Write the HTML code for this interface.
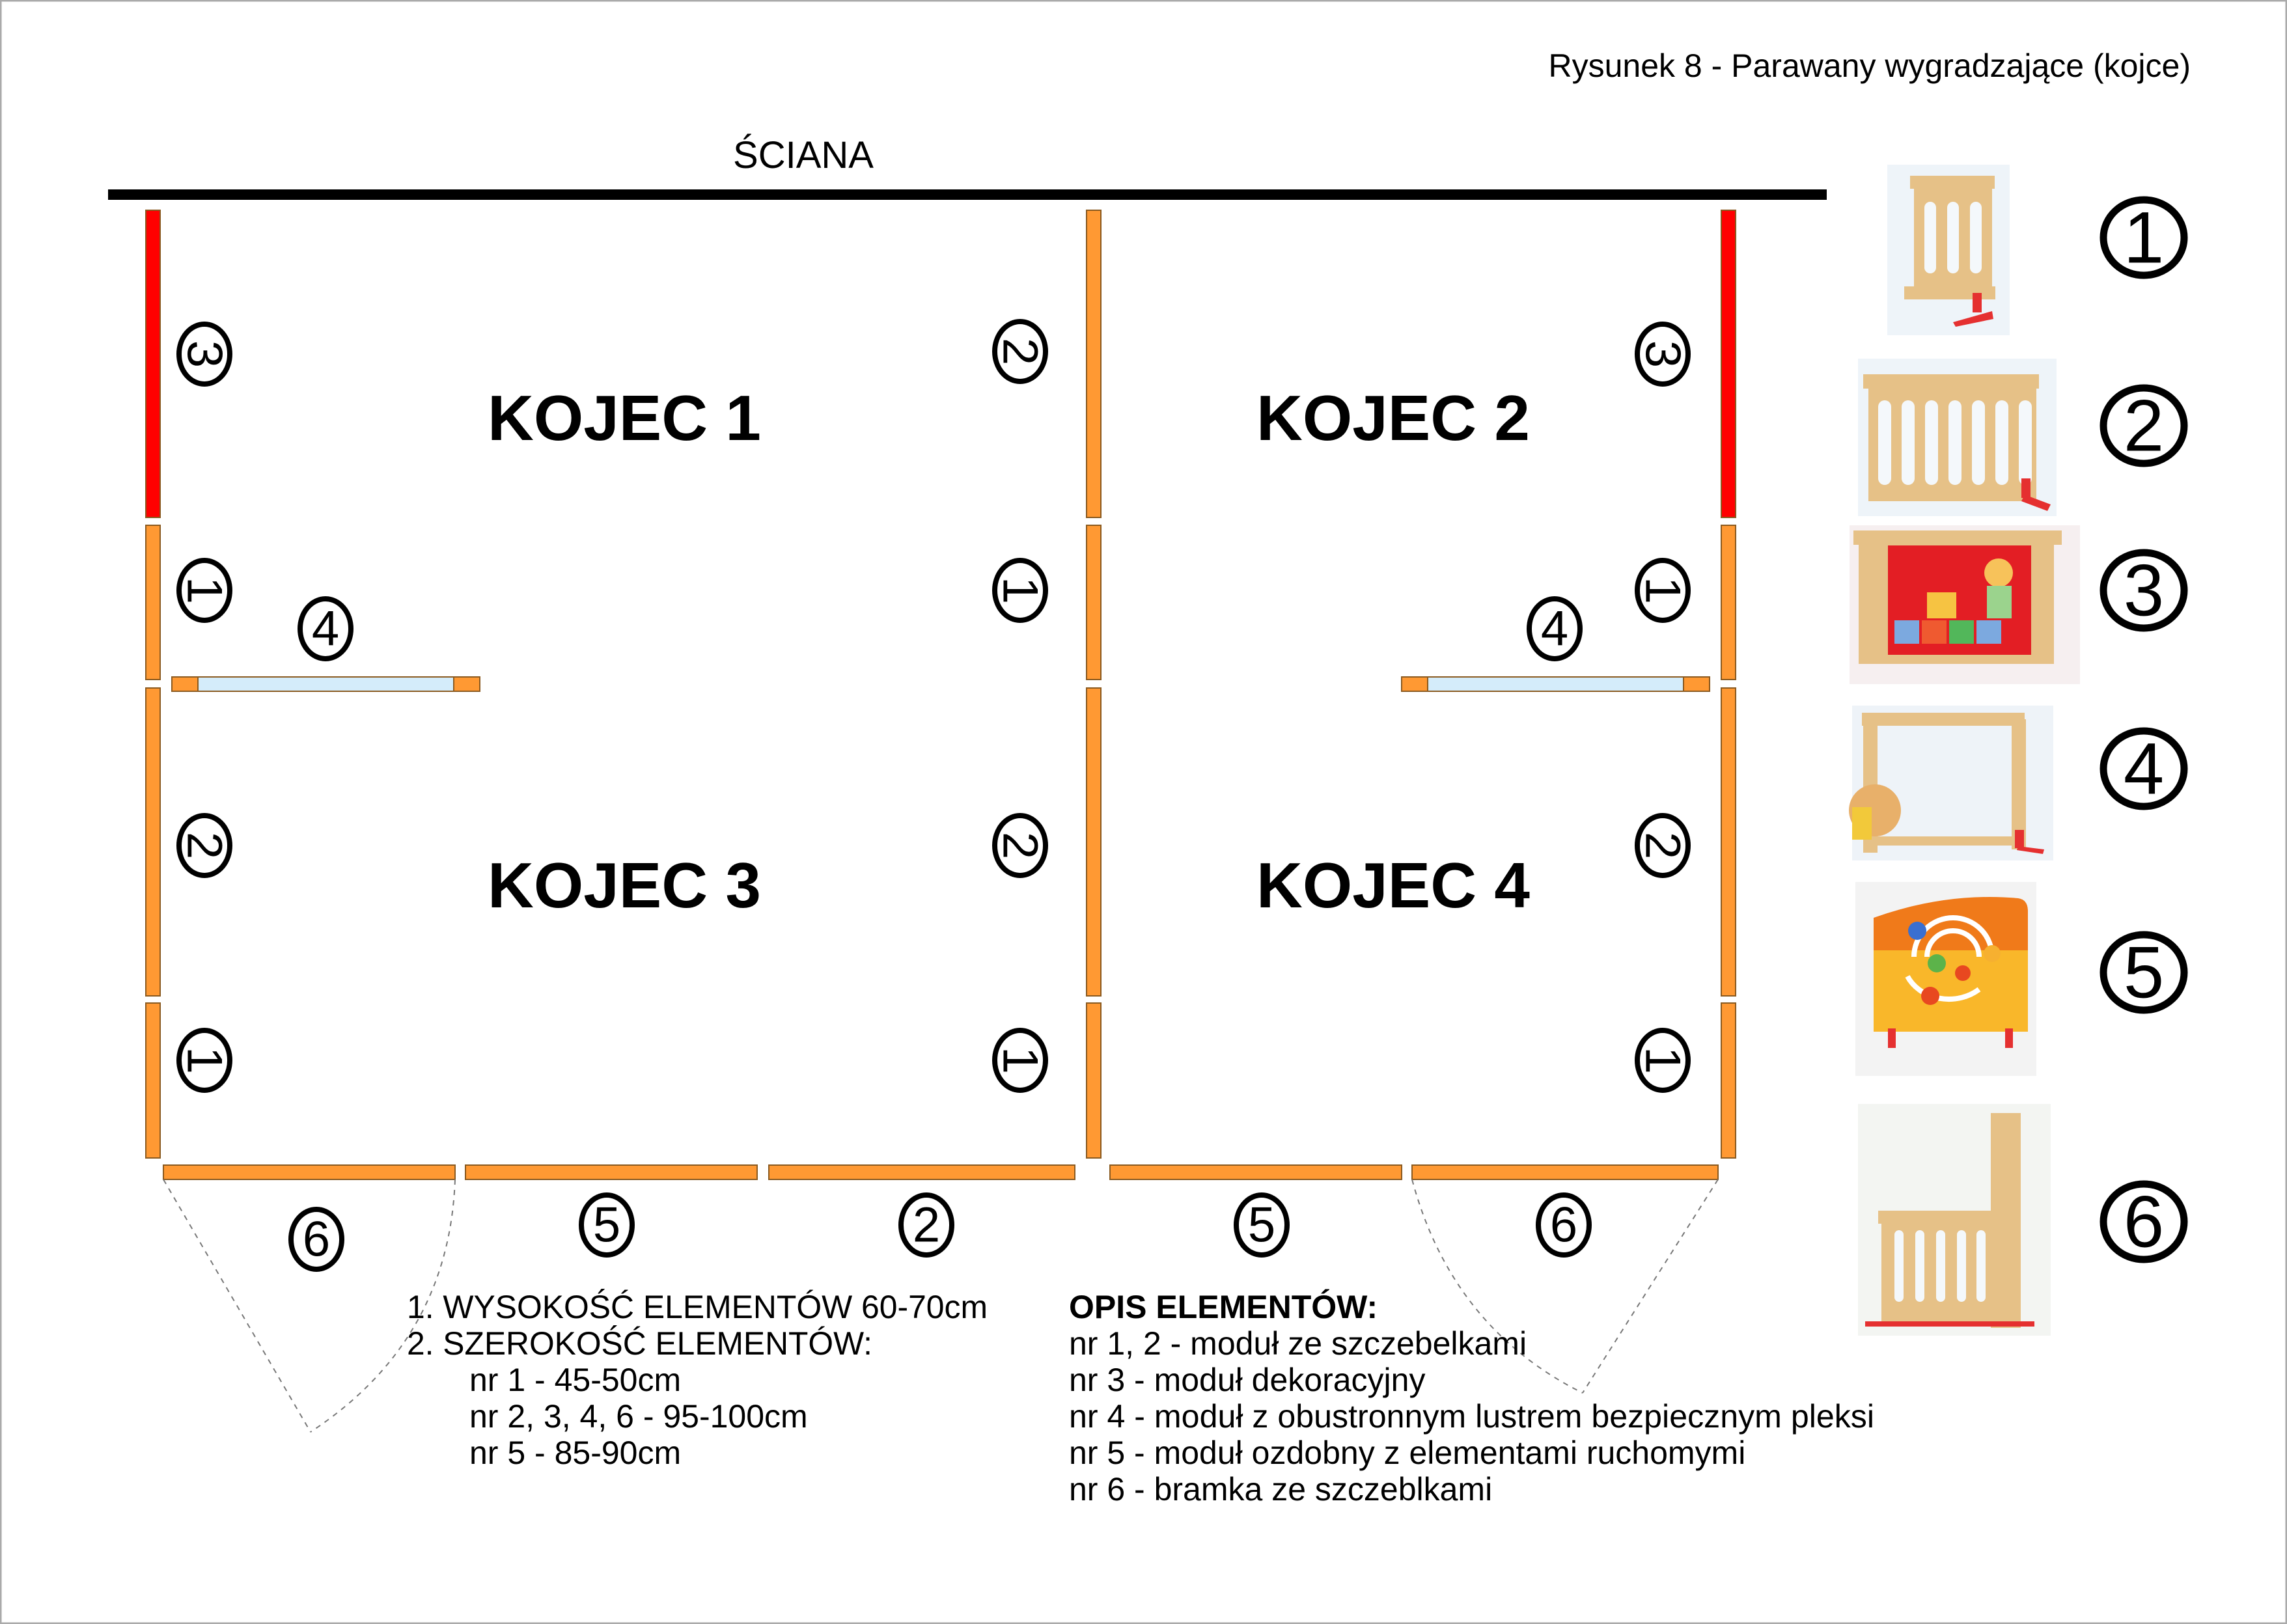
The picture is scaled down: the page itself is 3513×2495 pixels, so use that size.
<!DOCTYPE html>
<html><head><meta charset="utf-8"><style>
html,body{margin:0;padding:0;background:#fff;}
svg{display:block;}
text{font-family:"Liberation Sans",Arial,sans-serif;}
</style></head><body>
<svg width="3513" height="2495" viewBox="0 0 3513 2495" xmlns="http://www.w3.org/2000/svg">
<rect x="1" y="1" width="3511" height="2493" fill="#fff" stroke="#aaa" stroke-width="3"/>
<text x="3365" y="118" font-size="50" text-anchor="end">Rysunek 8 - Parawany wygradzające (kojce)</text>
<text x="1234" y="258" font-size="58" text-anchor="middle">ŚCIANA</text>
<rect x="166" y="291" width="2640" height="16" fill="#000"/>

<g stroke="#8a5a20" stroke-width="2">
<rect x="224" y="323" width="22" height="472" fill="#ff0000"/>
<rect x="224" y="807" width="22" height="237" fill="#ff9933"/>
<rect x="224" y="1057" width="22" height="473" fill="#ff9933"/>
<rect x="224" y="1541" width="22" height="238" fill="#ff9933"/>
<rect x="1669" y="323" width="22" height="472" fill="#ff9933"/>
<rect x="1669" y="807" width="22" height="237" fill="#ff9933"/>
<rect x="1669" y="1057" width="22" height="473" fill="#ff9933"/>
<rect x="1669" y="1541" width="22" height="238" fill="#ff9933"/>
<rect x="2644" y="323" width="22" height="472" fill="#ff0000"/>
<rect x="2644" y="807" width="22" height="237" fill="#ff9933"/>
<rect x="2644" y="1057" width="22" height="473" fill="#ff9933"/>
<rect x="2644" y="1541" width="22" height="238" fill="#ff9933"/>
<rect x="251" y="1790" width="448" height="22" fill="#ff9933"/>
<rect x="715" y="1790" width="448" height="22" fill="#ff9933"/>
<rect x="1181" y="1790" width="470" height="22" fill="#ff9933"/>
<rect x="1705" y="1790" width="448" height="22" fill="#ff9933"/>
<rect x="2169" y="1790" width="470" height="22" fill="#ff9933"/>
<rect x="264" y="1040" width="473" height="22" fill="#d4ecfa"/>
<rect x="264" y="1040" width="40" height="22" fill="#ff9933"/>
<rect x="697" y="1040" width="40" height="22" fill="#ff9933"/>
<rect x="2153" y="1040" width="473" height="22" fill="#d4ecfa"/>
<rect x="2153" y="1040" width="40" height="22" fill="#ff9933"/>
<rect x="2586" y="1040" width="40" height="22" fill="#ff9933"/>
</g>

<g fill="none" stroke="#777" stroke-width="2" stroke-dasharray="8,8">
<path d="M251 1812 L477 2200"/>
<path d="M699 1812 Q690 2060 477 2200"/>
<path d="M2639 1812 L2431 2140"/>
<path d="M2169 1812 Q2230 2040 2431 2140"/>
</g>

<g font-size="98" font-weight="bold" text-anchor="middle">
<text x="959" y="676" textLength="420" lengthAdjust="spacingAndGlyphs">KOJEC 1</text>
<text x="2140" y="676" textLength="420" lengthAdjust="spacingAndGlyphs">KOJEC 2</text>
<text x="959" y="1394" textLength="420" lengthAdjust="spacingAndGlyphs">KOJEC 3</text>
<text x="2140" y="1394" textLength="420" lengthAdjust="spacingAndGlyphs">KOJEC 4</text>
</g>

<g fill="none" stroke="#000" stroke-width="8">
<ellipse cx="314" cy="544" rx="39" ry="46"/><ellipse cx="314" cy="907" rx="39" ry="46"/><ellipse cx="314" cy="1299" rx="39" ry="46"/><ellipse cx="314" cy="1629" rx="39" ry="46"/>
<ellipse cx="1567" cy="540" rx="39" ry="46"/><ellipse cx="1567" cy="907" rx="39" ry="46"/><ellipse cx="1567" cy="1299" rx="39" ry="46"/><ellipse cx="1567" cy="1629" rx="39" ry="46"/>
<ellipse cx="2554" cy="544" rx="39" ry="46"/><ellipse cx="2554" cy="907" rx="39" ry="46"/><ellipse cx="2554" cy="1299" rx="39" ry="46"/><ellipse cx="2554" cy="1629" rx="39" ry="46"/>
<ellipse cx="500" cy="966" rx="39" ry="46"/><ellipse cx="2388" cy="966" rx="39" ry="46"/>
<ellipse cx="486" cy="1904" rx="39" ry="46"/><ellipse cx="932" cy="1882" rx="39" ry="46"/><ellipse cx="1423" cy="1882" rx="39" ry="46"/><ellipse cx="1938" cy="1882" rx="39" ry="46"/><ellipse cx="2402" cy="1882" rx="39" ry="46"/>
</g>
<g font-size="76" text-anchor="middle" dominant-baseline="central">
<text transform="translate(314,544) rotate(90)">3</text>
<text transform="translate(314,907) rotate(90)">1</text>
<text transform="translate(314,1299) rotate(90)">2</text>
<text transform="translate(314,1629) rotate(90)">1</text>
<text transform="translate(1567,540) rotate(90)">2</text>
<text transform="translate(1567,907) rotate(90)">1</text>
<text transform="translate(1567,1299) rotate(90)">2</text>
<text transform="translate(1567,1629) rotate(90)">1</text>
<text transform="translate(2554,544) rotate(90)">3</text>
<text transform="translate(2554,907) rotate(90)">1</text>
<text transform="translate(2554,1299) rotate(90)">2</text>
<text transform="translate(2554,1629) rotate(90)">1</text>
<text x="500" y="966">4</text><text x="2388" y="966">4</text>
<text x="486" y="1904">6</text><text x="932" y="1882">5</text><text x="1423" y="1882">2</text><text x="1938" y="1882">5</text><text x="2402" y="1882">6</text>
</g>

<g fill="none" stroke="#000" stroke-width="11">
<ellipse cx="3293" cy="365" rx="62" ry="58"/>
<ellipse cx="3293" cy="654" rx="62" ry="58"/>
<ellipse cx="3293" cy="907" rx="62" ry="58"/>
<ellipse cx="3293" cy="1181" rx="62" ry="58"/>
<ellipse cx="3293" cy="1494" rx="62" ry="58"/>
<ellipse cx="3293" cy="1877" rx="62" ry="58"/>
</g>
<g font-size="112" text-anchor="middle" dominant-baseline="central">
<text x="3293" y="365">1</text><text x="3293" y="654">2</text><text x="3293" y="907">3</text>
<text x="3293" y="1181">4</text><text x="3293" y="1494">5</text><text x="3293" y="1877">6</text>
</g>

<!-- 1 -->
<rect x="2899" y="253" width="188" height="262" fill="#eef4f9"/>
<rect x="2934" y="270" width="130" height="20" fill="#e6c187"/>
<rect x="2925" y="440" width="140" height="20" fill="#e6c187"/>
<rect x="2940" y="285" width="120" height="160" fill="#e6c187"/>
<g fill="#f4f8fb"><rect x="2956" y="310" width="18" height="110" rx="9"/><rect x="2991" y="310" width="18" height="110" rx="9"/><rect x="3026" y="310" width="18" height="110" rx="9"/></g>
<rect x="3030" y="450" width="14" height="30" fill="#e53030"/><path d="M3000 495 L3060 478 L3062 490 L3004 502Z" fill="#e53030"/>
<!-- 2 -->
<rect x="2854" y="551" width="305" height="242" fill="#eef4f9"/>
<rect x="2862" y="575" width="270" height="22" fill="#e6c187"/>
<rect x="2870" y="590" width="258" height="180" fill="#e6c187"/>
<g fill="#f4f8fb"><rect x="2885" y="615" width="20" height="130" rx="10"/><rect x="2921" y="615" width="20" height="130" rx="10"/><rect x="2957" y="615" width="20" height="130" rx="10"/><rect x="2993" y="615" width="20" height="130" rx="10"/><rect x="3029" y="615" width="20" height="130" rx="10"/><rect x="3065" y="615" width="20" height="130" rx="10"/><rect x="3101" y="615" width="20" height="130" rx="10"/></g>
<rect x="3105" y="735" width="14" height="30" fill="#e53030"/><path d="M3110 760 L3150 775 L3145 785 L3105 770Z" fill="#e53030"/>
<!-- 3 -->
<rect x="2841" y="807" width="354" height="244" fill="#f6eff0"/>
<rect x="2847" y="815" width="320" height="22" fill="#e6c187"/>
<rect x="2855" y="830" width="300" height="190" fill="#e6c187"/>
<rect x="2900" y="838" width="220" height="168" fill="#e31e24"/>
<rect x="2910" y="953" width="38" height="36" fill="#7ca9df"/><rect x="2952" y="953" width="38" height="36" fill="#ef5a30"/><rect x="2994" y="953" width="38" height="36" fill="#52b75a"/><rect x="3036" y="953" width="38" height="36" fill="#7ca9df"/>
<rect x="2960" y="910" width="45" height="40" fill="#f6c342"/><circle cx="3070" cy="880" r="22" fill="#f7c25a"/><rect x="3052" y="900" width="38" height="50" fill="#9bd38d"/>
<!-- 4 -->
<rect x="2845" y="1084" width="309" height="238" fill="#eef3f8"/>
<rect x="2860" y="1095" width="250" height="20" fill="#e6c187"/>
<rect x="2862" y="1105" width="22" height="205" fill="#e6c187"/>
<rect x="3090" y="1105" width="22" height="200" fill="#e6c187"/>
<rect x="2862" y="1285" width="250" height="14" fill="#e6c187"/>
<circle cx="2880" cy="1245" r="40" fill="#e8b06a"/><rect x="2845" y="1240" width="30" height="50" fill="#f2c93a"/>
<rect x="3095" y="1275" width="14" height="28" fill="#e53030"/><path d="M3100 1300 L3140 1305 L3138 1312 L3098 1306Z" fill="#e53030"/>
<!-- 5 -->
<rect x="2850" y="1355" width="278" height="298" fill="#f3f3f3"/>
<path d="M2878 1410 Q2990 1370 3100 1380 Q3115 1382 3115 1400 L3115 1460 L2878 1460Z" fill="#f07a1a"/>
<rect x="2878" y="1460" width="237" height="125" fill="#f9b72a"/>
<g fill="none" stroke="#fff" stroke-width="8"><path d="M2940 1470 A60 60 0 0 1 3060 1470"/><path d="M2960 1470 A40 40 0 0 1 3040 1470"/><path d="M2930 1500 A70 60 0 0 0 3040 1520"/></g>
<circle cx="2945" cy="1430" r="14" fill="#3a6fd0"/><circle cx="2975" cy="1480" r="14" fill="#5cb34a"/><circle cx="3015" cy="1495" r="12" fill="#e84820"/><circle cx="2965" cy="1530" r="14" fill="#e84820"/><circle cx="3060" cy="1465" r="13" fill="#f6b030"/>
<rect x="2900" y="1580" width="12" height="30" fill="#e53030"/><rect x="3080" y="1580" width="12" height="30" fill="#e53030"/>
<!-- 6 -->
<rect x="2854" y="1696" width="296" height="356" fill="#f3f5f2"/>
<rect x="3058" y="1710" width="46" height="330" fill="#e6c187"/>
<rect x="2885" y="1860" width="175" height="20" fill="#e6c187"/>
<rect x="2890" y="1870" width="170" height="160" fill="#e6c187"/>
<g fill="#f4f8fb"><rect x="2910" y="1890" width="14" height="110" rx="7"/><rect x="2942" y="1890" width="14" height="110" rx="7"/><rect x="2974" y="1890" width="14" height="110" rx="7"/><rect x="3006" y="1890" width="14" height="110" rx="7"/><rect x="3036" y="1890" width="14" height="110" rx="7"/></g>
<rect x="2865" y="2030" width="260" height="8" fill="#e53030"/>

<g font-size="50">
<text x="625" y="2025" textLength="892" lengthAdjust="spacingAndGlyphs">1. WYSOKOŚĆ ELEMENTÓW 60-70cm</text>
<text x="625" y="2081" textLength="715" lengthAdjust="spacingAndGlyphs">2. SZEROKOŚĆ ELEMENTÓW:</text>
<text x="721" y="2137">nr 1 - 45-50cm</text>
<text x="721" y="2193">nr 2, 3, 4, 6 - 95-100cm</text>
<text x="721" y="2249">nr 5 - 85-90cm</text>
<text x="1642" y="2025" font-weight="bold">OPIS ELEMENTÓW:</text>
<text x="1642" y="2081">nr 1, 2 - moduł ze szczebelkami</text>
<text x="1642" y="2137">nr 3 - moduł dekoracyjny</text>
<text x="1642" y="2193" textLength="1237" lengthAdjust="spacingAndGlyphs">nr 4 - moduł z obustronnym lustrem bezpiecznym pleksi</text>
<text x="1642" y="2249">nr 5 - moduł ozdobny z elementami ruchomymi</text>
<text x="1642" y="2305">nr 6 - bramka ze szczeblkami</text>
</g>
</svg>
</body></html>
